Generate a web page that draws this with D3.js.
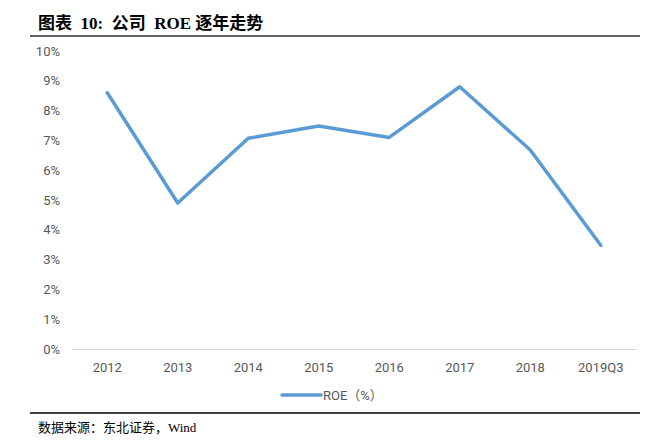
<!DOCTYPE html>
<html><head><meta charset="utf-8">
<script src="https://cdn.jsdelivr.net/npm/d3@7/dist/d3.min.js"></script>
<style>body{margin:0;background:#fff}svg{display:block}text{white-space:pre}</style>
</head><body>
<script>
const categories = ["2012","2013","2014","2015","2016","2017","2018","2019Q3"];
const roe = [8.6, 4.9, 7.07, 7.48, 7.1, 8.8, 6.68, 3.48];
const yTicks = [0,1,2,3,4,5,6,7,8,9,10];
const seriesName = "ROE（%）";
const titleText = "图表  10:  公司  ROE 逐年走势";
const sourceText = "数据来源：东北证券，Wind";

const W = 667, H = 444;
const svg = d3.select("body").append("svg").attr("width", W).attr("height", H);

const x = d3.scaleBand().domain(categories).range([72, 636]);
const y = d3.scaleLinear().domain([0, 10]).range([349, 51]);

// title
svg.append("text").attr("x", 38).attr("y", 29)
  .attr("font-family", "'Liberation Serif','Noto Sans CJK SC',serif")
  .attr("font-weight", "bold").attr("font-size", 17).attr("fill", "#000")
  .text(titleText);
svg.append("line").attr("x1", 30).attr("x2", 640).attr("y1", 36).attr("y2", 36)
  .attr("stroke", "#333").attr("stroke-width", 1.5);

// y axis labels
const yAxis = d3.axisLeft(y).tickValues(yTicks).tickFormat(d => d + "%").tickSize(0).tickPadding(0);
const gy = svg.append("g").attr("transform", "translate(60,0)").call(yAxis);
gy.select(".domain").remove();
gy.selectAll("text").attr("font-family", "Roboto, 'Open Sans', sans-serif")
  .attr("font-size", 13).attr("fill", "#595959");

// x axis
const xAxis = d3.axisBottom(x).tickSize(0).tickPadding(14);
const gx = svg.append("g").attr("transform", "translate(0,349)").call(xAxis);
gx.select(".domain").attr("stroke", "#D9D9D9").attr("stroke-width", 1);
gx.selectAll("text").attr("font-family", "Roboto, 'Open Sans', sans-serif")
  .attr("font-size", 13).attr("fill", "#595959");

// line
const line = d3.line().x((d, i) => x(categories[i]) + x.bandwidth() / 2).y(d => y(d));
svg.append("path").datum(roe).attr("d", line)
  .attr("fill", "none").attr("stroke", "#5B9BD5").attr("stroke-width", 3.5)
  .attr("stroke-linejoin", "round").attr("stroke-linecap", "round");

// legend
svg.append("line").attr("x1", 282).attr("x2", 321).attr("y1", 395).attr("y2", 395)
  .attr("stroke", "#5B9BD5").attr("stroke-width", 3.5).attr("stroke-linecap", "round");
svg.append("text").attr("x", 323).attr("y", 400)
  .attr("font-family", "Roboto, 'Noto Sans CJK SC', sans-serif")
  .attr("font-size", 13).attr("fill", "#595959").text(seriesName);

// bottom rule & source
svg.append("line").attr("x1", 30).attr("x2", 640).attr("y1", 413).attr("y2", 413)
  .attr("stroke", "#000").attr("stroke-width", 1.5);
svg.append("text").attr("x", 38).attr("y", 432)
  .attr("font-family", "'Liberation Serif','Noto Sans CJK SC',serif")
  .attr("font-size", 13).attr("fill", "#000").text(sourceText);
</script>
</body></html>
